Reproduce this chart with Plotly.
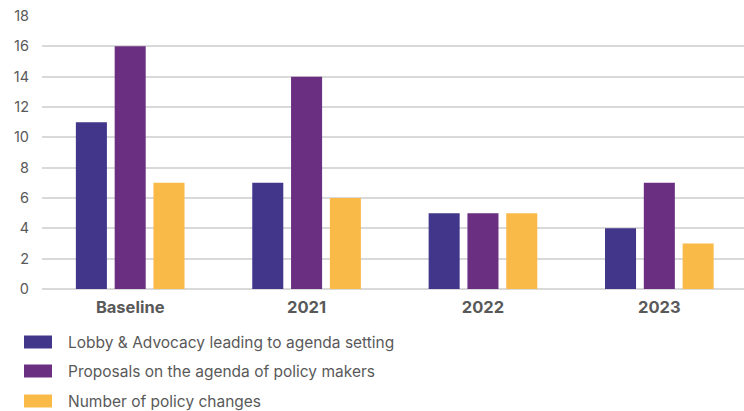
import plotly.graph_objects as go

# Category labels and series values
categories = ["Baseline", "2021", "2022", "2023"]
series_names = [
    "Lobby & Advocacy leading to agenda setting",
    "Proposals on the agenda of policy makers",
    "Number of policy changes",
]
lobby_advocacy = [11, 7, 5, 4]
proposals_on_agenda = [16, 14, 5, 7]
policy_changes = [7, 6, 5, 3]
y_ticks = [0, 2, 4, 6, 8, 10, 12, 14, 16, 18]

colors = ["#42368A", "#6A2F80", "#FABA48"]
series_values = [lobby_advocacy, proposals_on_agenda, policy_changes]

W, H = 744, 411
M_L, M_R, M_T, M_B = 42, 0, 16, 122

fig = go.Figure()
for name, vals, col in zip(series_names, series_values, colors):
    fig.add_trace(go.Bar(
        x=categories, y=vals, name=name,
        marker=dict(color=col, line=dict(width=0)),
        showlegend=False,
    ))

# Custom legend: wide swatches with labels stacked below the chart
legend_rows_px = [342, 371, 401]
for name, col, ypx in zip(series_names, colors, legend_rows_px):
    y0 = 1 - (ypx - 6.5 - M_T) / (H - M_T - M_B)
    y1 = 1 - (ypx + 6.5 - M_T) / (H - M_T - M_B)
    x0 = (24 - M_L) / (W - M_L - M_R)
    x1 = (52 - M_L) / (W - M_L - M_R)
    fig.add_shape(type="rect", xref="paper", yref="paper",
                  x0=x0, x1=x1, y0=y1, y1=y0,
                  fillcolor=col, line=dict(width=0))
    fig.add_annotation(xref="paper", yref="paper",
                       x=(66 - M_L) / (W - M_L - M_R),
                       y=1 - (ypx - M_T) / (H - M_T - M_B),
                       text=name, showarrow=False,
                       xanchor="left", yanchor="middle",
                       font=dict(family="Inter", size=15.5, color="#595959"))

fig.update_layout(
    width=W, height=H,
    margin=dict(l=M_L, r=M_R, t=M_T, b=M_B),
    paper_bgcolor="white", plot_bgcolor="white",
    barmode="group", bargap=0.34, bargroupgap=0.2,
    font=dict(family="Inter", color="#595959"),
    xaxis=dict(
        range=[-0.5, 3.48], showgrid=False, showline=False, ticks="",
        tickfont=dict(family="Inter", size=16.5, color="#595959", weight="bold"),
        ticklabelstandoff=6,
    ),
    yaxis=dict(
        range=[0, 18], tickvals=y_ticks, showline=False, ticks="",
        gridcolor="#D9D9D9", gridwidth=1.5,
        zeroline=True, zerolinecolor="#D9D9D9", zerolinewidth=1.5,
        tickfont=dict(family="Inter", size=14.5, color="#595959"),
        ticklabelstandoff=12,
    ),
)

fig.write_html("out.html")
